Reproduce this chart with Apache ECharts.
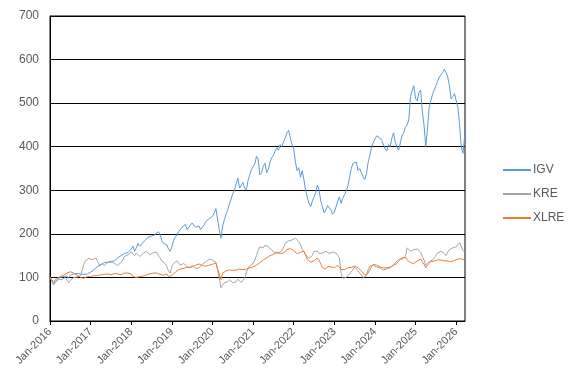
<!DOCTYPE html>
<html><head><meta charset="utf-8">
<script src="https://cdn.jsdelivr.net/npm/echarts@6/dist/echarts.min.js"></script>
<style>html,body{margin:0;padding:0;background:#fff}#c{width:572px;height:385px}</style>
</head><body><div id="c"></div>
<script>
// semi-monthly values, starting Jan-2016 (index i -> i/2 months after Jan-2016)
const startYear = 2016;
const tickYears = [2016,2017,2018,2019,2020,2021,2022,2023,2024,2025,2026];
const seriesNames = ['IGV','KRE','XLRE'];
const IGV = [
 100,95,85,90,95,98,100,97,102,104,103,98,105,108,108,110,109,111,108,106,107,105,108,110,
 112,115,118,120,125,123,128,130,134,137,135,132,137,140,138,142,145,147,150,153,155,152,157,160,
 165,172,160,168,178,172,175,180,185,188,192,190,195,193,198,202,205,200,185,178,182,175,165,160,
 170,185,192,198,205,210,215,218,222,210,212,220,225,228,215,212,218,210,212,220,228,232,235,238,
 240,248,258,262,210,190,218,232,245,255,268,280,292,300,315,328,305,312,318,305,300,322,335,348,
 352,360,378,372,335,340,355,362,340,348,365,375,380,390,398,392,405,400,412,420,432,438,420,405,
 395,365,345,352,330,345,325,300,285,270,262,275,285,295,312,300,275,262,248,255,265,262,255,245,
 250,262,275,285,270,282,290,298,310,330,350,362,358,365,345,350,340,330,325,338,365,380,400,410,
 410,425,428,420,415,418,395,390,405,400,420,432,410,400,392,395,425,432,445,450,462,515,530,540,
 510,505,525,530,480,450,400,440,490,505,520,530,540,550,560,565,570,578,570,560,540,510,515,522,
 505,490,450,400,385,425
];
const KRE = [
 100,92,83,88,92,95,97,95,98,100,96,88,93,96,100,103,101,99,104,108,130,138,142,144,
 146,140,142,145,138,128,130,132,127,130,134,136,135,138,133,130,127,125,135,140,148,150,152,155,
 158,155,150,156,154,148,150,155,157,160,158,152,155,157,160,158,150,145,138,135,132,125,115,110,
 125,132,136,138,134,128,130,132,128,125,124,122,128,130,120,118,122,125,130,134,136,138,142,144,
 140,138,135,132,100,76,82,88,85,90,95,92,88,86,90,96,92,88,86,98,112,120,126,130,
 132,140,150,162,170,172,168,174,172,170,166,163,160,156,155,156,160,162,170,178,182,184,180,186,
 188,190,186,182,175,165,160,152,148,144,142,150,160,163,160,155,152,156,158,160,156,155,154,158,
 159,156,152,145,110,98,95,100,102,108,112,118,124,125,115,110,105,100,96,104,118,126,129,128,
 126,124,120,122,120,117,115,120,118,122,125,129,134,138,142,140,142,145,148,168,165,160,158,164,
 164,165,162,158,148,140,128,132,136,138,140,145,150,156,158,160,160,155,150,158,164,160,168,172,
 170,174,180,178,162,158
];
const XLRE = [
 100,95,90,94,98,100,102,104,105,108,110,112,113,112,110,108,105,103,100,99,98,100,102,101,
 102,103,104,103,104,105,106,105,107,106,108,107,106,108,109,110,108,107,106,108,110,109,110,111,
 108,102,98,100,101,102,104,103,105,106,107,108,109,110,111,110,109,107,106,105,107,108,102,100,
 104,108,112,115,118,117,120,121,122,120,123,125,124,126,128,130,131,129,127,128,126,127,128,129,
 130,128,133,137,108,95,110,114,115,116,117,118,116,118,117,118,119,117,118,120,119,121,122,124,
 124,126,128,130,134,136,140,142,145,148,150,152,153,156,158,157,155,153,156,160,164,162,166,168,
 162,158,154,156,158,162,160,152,142,138,135,132,138,142,145,140,130,122,118,120,125,122,124,120,
 122,126,128,124,118,116,118,120,122,120,123,125,126,124,122,118,115,112,105,102,110,118,125,130,
 132,128,126,124,126,122,120,122,121,124,126,128,130,132,138,142,145,148,146,140,138,134,130,132,
 134,138,140,142,138,130,122,128,132,136,137,138,139,140,141,140,139,138,137,138,137,136,138,139,
 140,142,145,143,141,140
];
const colors = ['#5B9BD5','#A5A5A5','#ED7D31'];

function toPairs(arr){ return arr.map((v,i)=>[i/2, v]); }
const chart = echarts.init(document.getElementById('c'), null, {renderer:'canvas'});
const font = 'Liberation Sans, Arial, sans-serif';
chart.setOption({
  animation:false,
  grid:{left:50, right:107, top:16, bottom:64, show:true, borderColor:'#000', borderWidth:1},
  legend:{
    orient:'vertical', left:498, top:159, itemWidth:28, itemHeight:2, itemGap:12,
    icon:'rect', data:seriesNames,
    textStyle:{color:'#595959', fontSize:12, fontFamily:font, padding:[0,0,0,-3]}
  },
  xAxis:{
    type:'value', min:0, max:122.6, interval:12,
    splitLine:{show:false},
    axisLine:{lineStyle:{color:'#000', width:1}},
    axisTick:{show:true, length:4, lineStyle:{color:'#000'}},
    axisLabel:{rotate:45, color:'#595959', fontSize:11, fontFamily:font, margin:9,
      showMaxLabel:false,
      formatter:v=>{ const k=Math.round(v/12); return (Math.abs(v-12*k)<1e-6 && tickYears[k]!==undefined) ? 'Jan-'+tickYears[k] : ''; }}
  },
  yAxis:{
    type:'value', min:0, max:700, interval:100,
    axisLine:{show:true, lineStyle:{color:'#000'}},
    axisTick:{show:false},
    splitLine:{show:true, lineStyle:{color:'#000', width:1}},
    axisLabel:{color:'#595959', fontSize:12, fontFamily:font, margin:11}
  },
  series:[
    {name:'IGV', type:'line', data:toPairs(IGV), showSymbol:false, lineStyle:{width:1, color:colors[0]}, itemStyle:{color:colors[0]}},
    {name:'KRE', type:'line', data:toPairs(KRE), showSymbol:false, lineStyle:{width:1, color:colors[1]}, itemStyle:{color:colors[1]}},
    {name:'XLRE', type:'line', data:toPairs(XLRE), showSymbol:false, lineStyle:{width:1, color:colors[2]}, itemStyle:{color:colors[2]}}
  ]
});
</script></body></html>
